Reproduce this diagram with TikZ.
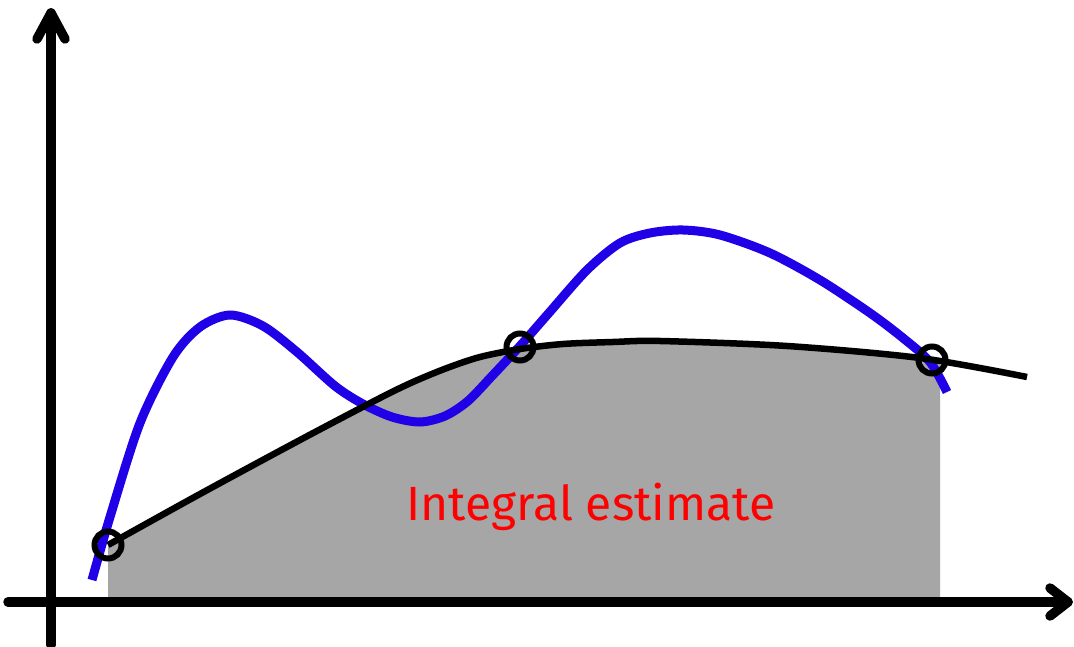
\documentclass[tikz,border=0pt]{standalone}
\usepackage{fontspec}
\newfontfamily\labelfont{Fira Sans}
\definecolor{curveblue}{RGB}{32,0,230}
\definecolor{fillgray}{RGB}{166,166,166}
\tikzset{
  axis/.style={line width=9.5pt,line cap=round,line join=round},
  truecurve/.style={curveblue,line width=9pt,line cap=butt},
  interp/.style={black,line width=6.5pt},
  sample/.style={circle,draw=black,line width=6pt,minimum size=27pt,inner sep=0pt},
  estlabel/.style={text=red,font=\labelfont\fontsize{48}{50}\selectfont,inner sep=0pt}
}
\def\interppts{(108,545) (200,494) (300,440) (380,398) (413,382) (447,368) (480,357) (520,349) (563,344) (613,342) (660,341) (787,346) (920,358) (1027,377)}
\begin{document}
\begin{tikzpicture}[x=1pt,y=-1pt]
\useasboundingbox (0,0) rectangle (1074,647);
% gray area under interpolant
\begin{scope}
\clip (108,300) rectangle (940,598);
\fill[fillgray] plot[smooth,tension=0.5] coordinates {\interppts} -- (1027,610) -- (108,610) -- cycle;
\end{scope}
% axes
\coordinate (xs) at (8,602);
\coordinate (xe) at (1068,602);
\coordinate (ys) at (51,645);
\coordinate (ye) at (51,13);
\draw[axis] (xs) -- (xe);
\draw[axis] (1050,588) -- (xe) -- (1050,616);
\draw[axis] (ys) -- (ye);
\draw[axis] (37,39) -- (ye) -- (65,39);
% true function
\draw[truecurve] plot[smooth,tension=0.5] coordinates {(92,580) (110,517) (140,423) (173,357) (200,327) (230,315) (263,326) (297,352) (335,386) (363,404) (392,417) (420,422) (445,416) (468,401) (492,376) (520,346) (548,314) (587,270) (620,243) (650,233) (683,230) (720,235) (770,253) (820,280) (870,313) (903,338) (930,362) (947,392)};
% interpolant
\draw[interp] plot[smooth,tension=0.5] coordinates {\interppts};
% sample points
\node[sample] (p1) at (108,545) {};
\node[sample] (p2) at (520,347) {};
\node[sample] (p3) at (932,360) {};
\node[estlabel] (lbl) at (591,507) {Integral estimate};
\end{tikzpicture}
\end{document}
